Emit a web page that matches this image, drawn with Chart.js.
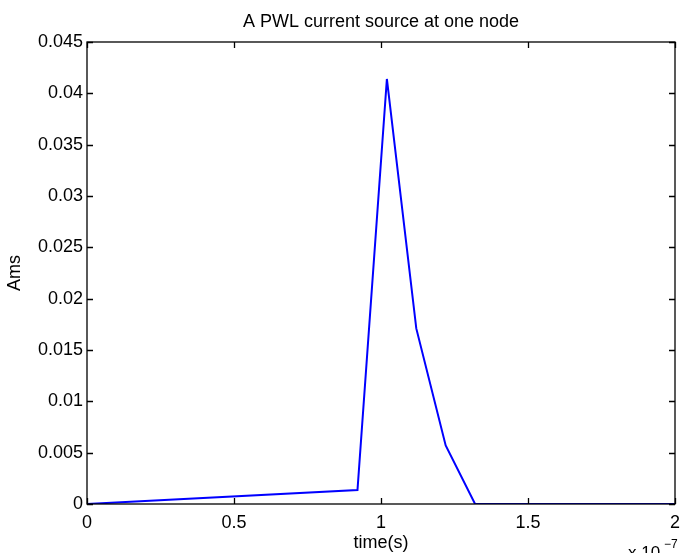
<!DOCTYPE html>
<html>
<head>
<meta charset="utf-8">
<script src="https://cdn.jsdelivr.net/npm/chart.js@4.4.0/dist/chart.umd.min.js"></script>
<style>
html,body{margin:0;padding:0;background:#fff;}
#wrap{width:681px;height:553px;position:relative;}
</style>
</head>
<body>
<div id="wrap"><canvas id="c" width="681" height="553"></canvas></div>
<script>
// time in units of 1e-7 s (axis shows "x 10^-7")
const timeValues = [0, 0.92, 1.02, 1.12, 1.22, 1.32, 1.62, 2.0];
const currentValues = [0, 0.00136, 0.0414, 0.0171, 0.0057, 0, 0, 0];
const xTicks = [0, 0.5, 1, 1.5, 2];
const yTicks = [0, 0.005, 0.01, 0.015, 0.02, 0.025, 0.03, 0.035, 0.04, 0.045];
const titleText = 'A PWL current source at one node';
const xLabel = 'time(s)';
const yLabel = 'Ams';

const FONT = '"Liberation Sans", Arial, Helvetica, sans-serif';
const points = timeValues.map((t, i) => ({x: t, y: currentValues[i]}));

const frame = {
  id: 'frame',
  beforeDraw(chart) {
    const c = chart.ctx;
    c.save();
    c.fillStyle = '#fff';
    c.fillRect(0, 0, chart.width, chart.height);
    c.restore();
  },
  afterDraw(chart) {
    const c = chart.ctx, a = chart.chartArea;
    const xs = chart.scales.x, ys = chart.scales.y;
    c.save();
    c.strokeStyle = '#000';
    c.lineWidth = 1.3;
    c.strokeRect(a.left, a.top, a.right - a.left, a.bottom - a.top);
    const L = 6;
    c.beginPath();
    xTicks.forEach(v => {
      const px = Math.round(xs.getPixelForValue(v)) + 0.5;
      c.moveTo(px, a.bottom); c.lineTo(px, a.bottom - L);
      c.moveTo(px, a.top); c.lineTo(px, a.top + L);
    });
    yTicks.forEach(v => {
      const py = Math.round(ys.getPixelForValue(v)) + 0.5;
      c.moveTo(a.left, py); c.lineTo(a.left + L, py);
      c.moveTo(a.right, py); c.lineTo(a.right - L, py);
    });
    c.stroke();
    c.fillStyle = '#000';
    c.textAlign = 'center';
    c.textBaseline = 'middle';
    c.font = '18px ' + FONT;
    c.fillText(titleText, (a.left + a.right) / 2, 22);
    c.fillText(xLabel, (a.left + a.right) / 2, 543);
    c.save();
    c.translate(15, (a.top + a.bottom) / 2);
    c.rotate(-Math.PI / 2);
    c.fillText(yLabel, 0, 0);
    c.restore();
    c.textAlign = 'left';
    c.textBaseline = 'alphabetic';
    c.font = '17px ' + FONT;
    c.fillText('x 10', 628, 558);
    c.font = '12px ' + FONT;
    c.fillText('\u22127', 664, 548);
    c.restore();
  }
};

new Chart(document.getElementById('c'), {
  type: 'scatter',
  data: {
    datasets: [{
      data: points,
      showLine: true,
      borderColor: '#0000ff',
      backgroundColor: '#0000ff',
      borderWidth: 2,
      pointRadius: 0,
      tension: 0
    }]
  },
  options: {
    responsive: false,
    animation: false,
    devicePixelRatio: 1,
    layout: {padding: {top: 42, right: 6, left: 0, bottom: 0}},
    plugins: {legend: {display: false}, tooltip: {enabled: false}, title: {display: false}},
    scales: {
      x: {
        type: 'linear', min: 0, max: 2,
        afterFit(s) { s.height = 49; s.paddingLeft = 0; s.paddingRight = 0; },
        afterBuildTicks(s) { s.ticks = xTicks.map(v => ({value: v})); },
        grid: {display: false, drawTicks: false},
        border: {display: false},
        ticks: {color: '#000', font: {size: 18, family: FONT}, padding: 8, maxRotation: 0,
          callback: v => String(v)}
      },
      y: {
        type: 'linear', min: 0, max: 0.045,
        afterFit(s) { s.width = 87; s.paddingTop = 0; s.paddingBottom = 0; },
        afterBuildTicks(s) { s.ticks = yTicks.map(v => ({value: v})); },
        grid: {display: false, drawTicks: false},
        border: {display: false},
        ticks: {color: '#000', font: {size: 18, family: FONT}, padding: 4,
          callback: v => String(+v.toFixed(3))}
      }
    }
  },
  plugins: [frame]
});
</script>
</body>
</html>
